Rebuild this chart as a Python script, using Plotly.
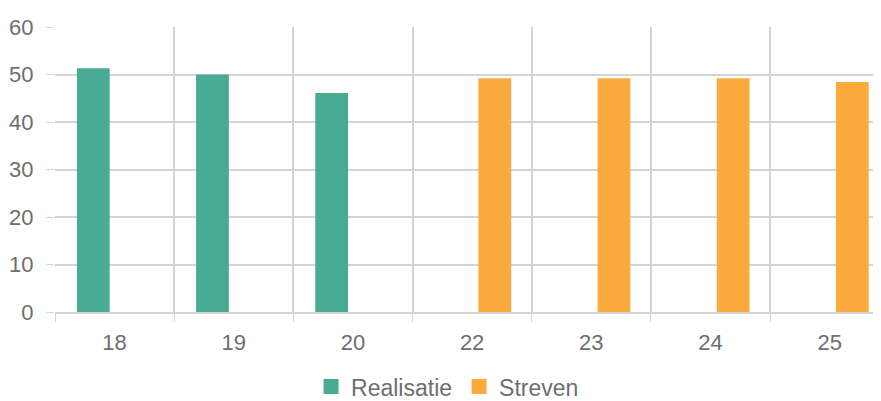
import plotly.graph_objects as go

categories = ["18", "19", "20", "22", "23", "24", "25"]
realisatie = [51.3, 50.0, 46.1, None, None, None, None]
streven = [None, None, None, 49.2, 49.2, 49.2, 48.4]
y_ticks = [0, 10, 20, 30, 40, 50, 60]
series_names = ["Realisatie", "Streven"]

GREEN = "#49ab93"
ORANGE = "#fbaa3b"
GRID = "#d4d4d4"
TEXT = "#6e6e6e"
FONT = "Arial, 'Liberation Sans', sans-serif"
FS = 22

fig = go.Figure()
fig.add_trace(go.Bar(
    x=categories, y=realisatie, name=series_names[0], showlegend=False,
    marker=dict(color=GREEN, line=dict(width=0)),
    width=0.275, offset=-0.316,
))
fig.add_trace(go.Bar(
    x=categories, y=streven, name=series_names[1], showlegend=False,
    marker=dict(color=ORANGE, line=dict(width=0)),
    width=0.275, offset=0.053,
))
# legend entries with square swatches
for nm, col in zip(series_names, [GREEN, ORANGE]):
    fig.add_trace(go.Scatter(
        x=[None], y=[None], mode="markers", name=nm,
        marker=dict(symbol="square", size=15, color=col),
    ))

# page body adds an 8px margin; compensate so the plot lands where the reference has it
fig.update_layout(
    width=873, height=393,
    margin=dict(l=47, r=0, t=19, b=89, autoexpand=False),
    plot_bgcolor="white", paper_bgcolor="white",
    barmode="overlay",
    font=dict(family=FONT, size=FS, color=TEXT),
    showlegend=True,
    legend=dict(
        orientation="h", x=0.310, xanchor="left", y=-0.262, yanchor="middle",
        font=dict(family=FONT, size=23, color=TEXT), itemwidth=30,
        entrywidth=103, entrywidthmode="pixels", traceorder="normal",
    ),
    xaxis=dict(
        type="category", range=[-0.5, 6.431], automargin=False,
        tickson="boundaries", ticks="outside", ticklen=8, tickcolor=GRID,
        showgrid=True, gridcolor=GRID, gridwidth=2,
        showline=True, linecolor=GRID, linewidth=2,
        tickfont=dict(family=FONT, size=FS, color=TEXT), ticklabelstandoff=10,
    ),
    yaxis=dict(
        range=[0, 60], tickvals=y_ticks, automargin=False,
        ticks="outside", ticklen=8, tickcolor=GRID,
        showgrid=True, gridcolor=GRID, gridwidth=2,
        showline=False, zeroline=False,
        tickfont=dict(family=FONT, size=FS, color=TEXT), ticklabelstandoff=8,
    ),
)

fig.write_html("out.html")
